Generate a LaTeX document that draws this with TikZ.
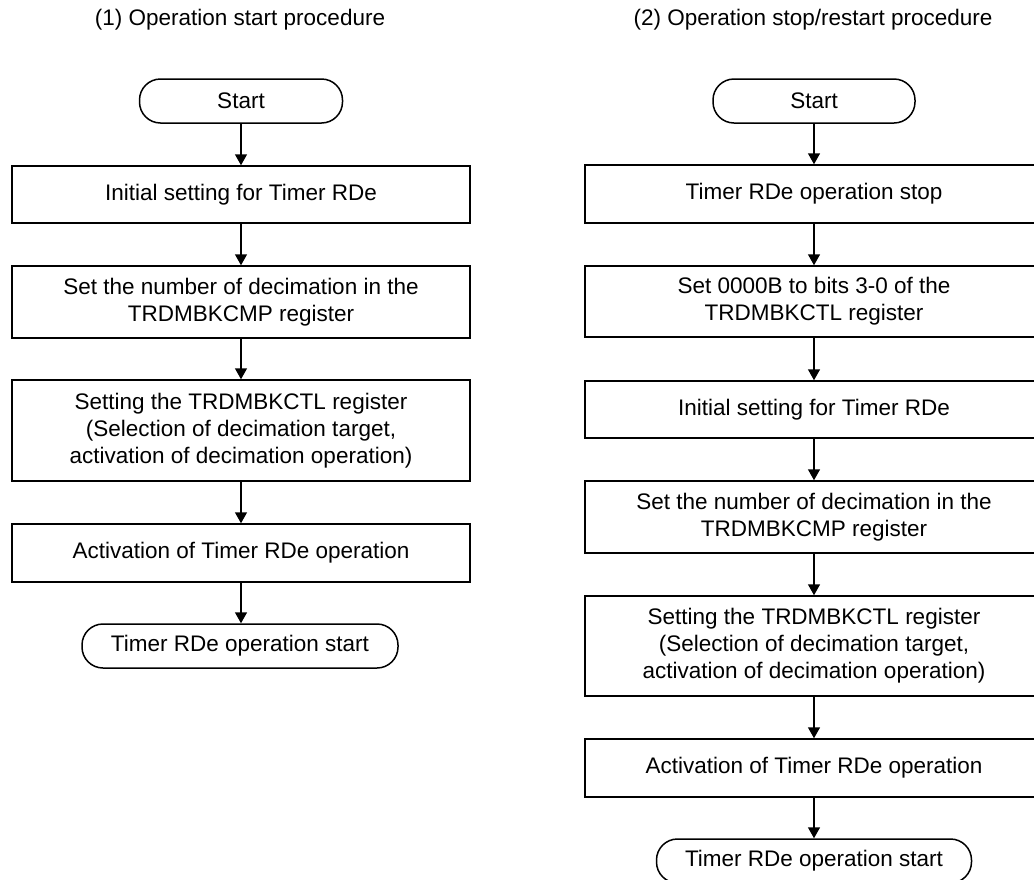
\documentclass[tikz,border=0pt]{standalone}
\usepackage{fontspec}
\setmainfont{Liberation Sans}
\usetikzlibrary{arrows.meta}
\begin{document}
\begin{tikzpicture}[x=1pt,y=1pt,
  every node/.style={font=\fontsize{22.5}{27}\selectfont, inner sep=0pt},
  procbox/.style={draw, line width=1.5pt, minimum width=458pt, align=center},
  term/.style={draw, line width=1.5pt, rounded corners=21pt, minimum height=44pt, align=center},
  flow/.style={line width=1.5pt, -{Triangle[width=12pt,length=11pt]}},
  ttl/.style={align=center}]
\useasboundingbox (0,0) rectangle (1034,-879);
\clip (0,0) rectangle (1034,-879);
% titles
\node[ttl] (t1) at (240,-20) {(1) Operation start procedure};
\node[ttl] (t2) at (813,-20) {(2) Operation stop/restart procedure};
% left column
\node[term, minimum width=203pt] (sL) at (241,-101) {Start};
\node[procbox, minimum height=57pt] (L1) at (241,-194.5) {Initial setting for Timer RDe};
\node[procbox, minimum height=72pt] (L2) at (241,-302) {Set the number of decimation in the\\TRDMBKCMP register};
\node[procbox, minimum height=101pt] (L3) at (241,-430.5) {Setting the TRDMBKCTL register\\(Selection of decimation target,\\activation of decimation operation)};
\node[procbox, minimum height=58pt] (L4) at (241,-553) {Activation of Timer RDe operation};
\node[term, minimum width=316pt] (eL) at (240,-646) {Timer RDe operation start};
\draw[flow] (sL) -- (L1);
\draw[flow] (L1) -- (L2);
\draw[flow] (L2) -- (L3);
\draw[flow] (L3) -- (L4);
\draw[flow] (L4.south) -- (L4.south |- eL.north);
% right column
\node[term, minimum width=202pt] (sR) at (814,-101) {Start};
\node[procbox, minimum height=58pt] (R1) at (814,-194) {Timer RDe operation stop};
\node[procbox, minimum height=71pt] (R2) at (814,-301.5) {Set 0000B to bits 3-0 of the\\TRDMBKCTL register};
\node[procbox, minimum height=57pt] (R3) at (814,-409.5) {Initial setting for Timer RDe};
\node[procbox, minimum height=72pt] (R4) at (814,-517) {Set the number of decimation in the\\TRDMBKCMP register};
\node[procbox, minimum height=100pt] (R5) at (814,-646) {Setting the TRDMBKCTL register\\(Selection of decimation target,\\activation of decimation operation)};
\node[procbox, minimum height=58pt] (R6) at (814,-768) {Activation of Timer RDe operation};
\node[term, minimum width=315pt] (eR) at (814,-861) {Timer RDe operation start};
\draw[flow] (sR) -- (R1);
\draw[flow] (R1) -- (R2);
\draw[flow] (R2) -- (R3);
\draw[flow] (R3) -- (R4);
\draw[flow] (R4) -- (R5);
\draw[flow] (R5) -- (R6);
\draw[flow] (R6) -- (eR);
\end{tikzpicture}
\end{document}
